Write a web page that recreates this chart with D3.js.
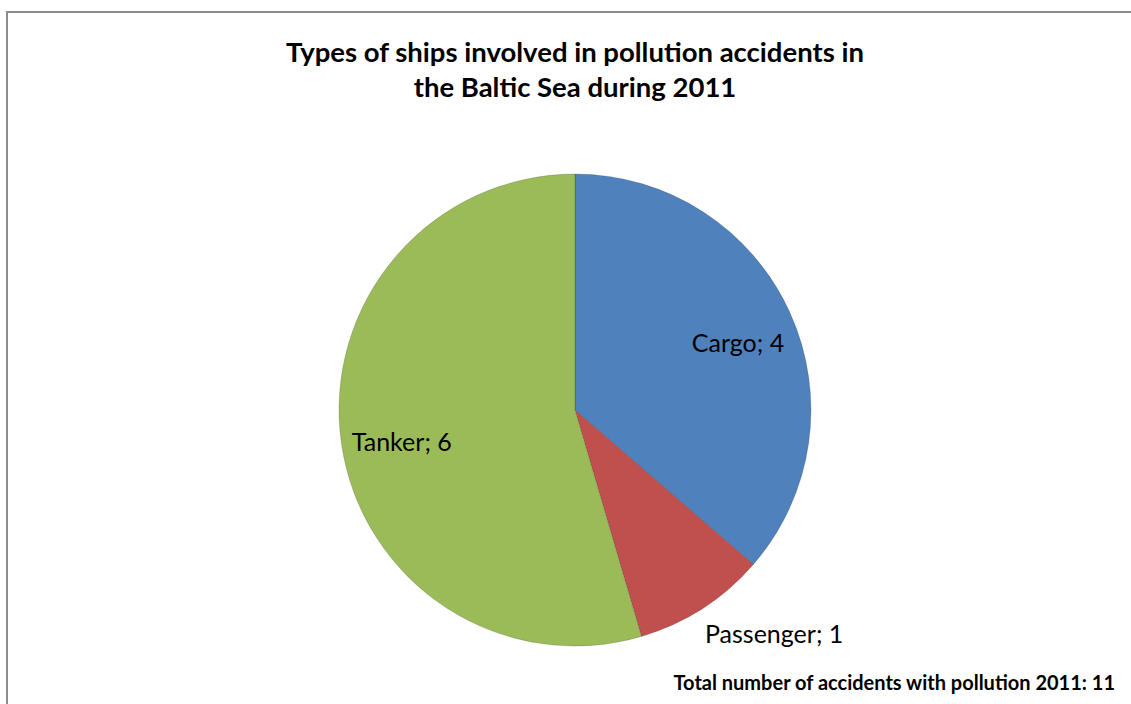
<!DOCTYPE html>
<html>
<head>
<meta charset="utf-8">
<script src="https://cdn.jsdelivr.net/npm/d3@7"></script>
<style>
  body { margin: 0; background: #fff; }
  text { font-family: Lato, "Open Sans", sans-serif; fill: #000; }
</style>
</head>
<body>
<svg width="1131" height="704"></svg>
<script>
// data
var types = ["Cargo", "Passenger", "Tanker"];
var counts = [4, 1, 6];
var colors = ["#4F81BD", "#C0504D", "#9BBB59"];
var titleLines = ["Types of ships involved in pollution accidents in", "the Baltic Sea during 2011"];
var footnote = "Total number of accidents with pollution 2011: 11";

var svg = d3.select("svg"),
    cx = 575, cy = 410, radius = 236;

// chart border
svg.append("rect")
    .attr("x", 7).attr("y", 12)
    .attr("width", 1140).attr("height", 720)
    .attr("fill", "none")
    .attr("stroke", "#8c8c8c")
    .attr("stroke-width", 2);

// title
svg.append("g").selectAll("text")
    .data(titleLines)
    .enter().append("text")
    .attr("x", cx)
    .attr("y", function(d, i) { return 62 + i * 35; })
    .attr("text-anchor", "middle")
    .attr("font-size", 27.5)
    .attr("font-weight", "bold")
    .text(function(d) { return d; });

var data = types.map(function(t, i) { return {type: t, value: counts[i], color: colors[i]}; });
var total = d3.sum(counts);

var pie = d3.pie().sort(null).value(function(d) { return d.value; });
var arc = d3.arc().innerRadius(0).outerRadius(radius);
var inLabel = d3.arc().innerRadius(radius * 0.75).outerRadius(radius * 0.75);
var outLabel = d3.arc().innerRadius(radius * 1.05).outerRadius(radius * 1.05);

var g = svg.append("g").attr("transform", "translate(" + cx + "," + cy + ")");

g.selectAll("path")
    .data(pie(data))
    .enter().append("path")
    .attr("d", arc)
    .attr("fill", function(d) { return d.data.color; })
    .attr("stroke", "rgba(0,0,0,0.15)")
    .attr("stroke-width", 1);

// small slices get their label outside the pie
function isSmall(d) { return d.data.value / total < 0.15; }

g.selectAll(".lbl")
    .data(pie(data))
    .enter().append("text")
    .attr("class", "lbl")
    .attr("transform", function(d) {
        return "translate(" + (isSmall(d) ? outLabel : inLabel).centroid(d) + ")";
    })
    .attr("text-anchor", function(d) { return isSmall(d) ? "start" : "middle"; })
    .attr("dx", function(d) { return isSmall(d) ? -4 : 2; })
    .attr("dy", function(d) { return isSmall(d) ? "0.97em" : "0.62em"; })
    .attr("font-size", 25)
    .text(function(d) { return d.data.type + "; " + d.data.value; });

// footnote
svg.append("text")
    .attr("x", 1115)
    .attr("y", 690)
    .attr("text-anchor", "end")
    .attr("font-size", 20)
    .attr("font-weight", "bold")
    .text(footnote);
</script>
</body>
</html>
